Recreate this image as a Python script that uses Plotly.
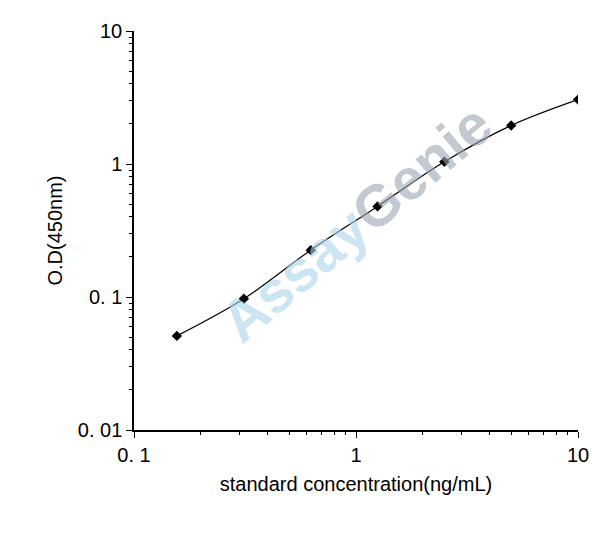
import plotly.graph_objects as go

conc = [0.156, 0.3125, 0.625, 1.25, 2.5, 5, 10]
od = [0.051, 0.097, 0.225, 0.48, 1.04, 1.95, 3.05]

x_ticks = [0.1, 1, 10]
x_labels = ['0. 1', '1', '10']
y_ticks = [0.01, 0.1, 1, 10]
y_labels = ['0. 01', '0. 1', '1', '10']

def minor_vals(decades):
    return [m * d for d in decades for m in range(2, 10)]

fig = go.Figure()
fig.add_trace(go.Scatter(x=conc, y=od, mode='lines+markers',
                         line=dict(color='black', width=1.2, shape='spline'),
                         marker=dict(symbol='diamond', size=8, color='black')))

fig.add_annotation(text='Assay<span style="color:#9aa6b2">Genie</span>',
                   xref='paper', yref='paper', x=0.5, y=0.52, showarrow=False,
                   textangle=-40, opacity=0.6,
                   font=dict(size=58, color='#a9d4ea', family='Liberation Sans', weight='bold'))

axis_common = dict(type='log', showgrid=False, zeroline=False, showline=True,
                   linecolor='black', linewidth=1.5, ticks='outside', ticklen=6,
                   tickcolor='black', mirror=False,
                   tickfont=dict(size=20, color='black'))

fig.update_xaxes(range=[-1, 1], tickvals=x_ticks, ticktext=x_labels,
                 minor=dict(tickvals=minor_vals([0.1, 1]), ticks='outside', ticklen=3,
                            tickcolor='black', showgrid=False),
                 title=dict(text='standard concentration(ng/mL)', font=dict(size=20, color='black'),
                            standoff=12),
                 **axis_common)
fig.update_yaxes(range=[-2, 1], tickvals=y_ticks, ticktext=y_labels,
                 minor=dict(tickvals=minor_vals([0.01, 0.1, 1]), ticks='outside', ticklen=3,
                            tickcolor='black', showgrid=False),
                 title=dict(text='O.D(450nm)', font=dict(size=20, color='black'), standoff=10),
                 **axis_common)

fig.update_layout(width=608, height=541, showlegend=False,
                  plot_bgcolor='white', paper_bgcolor='white',
                  font=dict(family='Liberation Sans'),
                  margin=dict(l=126, r=38, t=19, b=119))

fig.write_html("out.html")
